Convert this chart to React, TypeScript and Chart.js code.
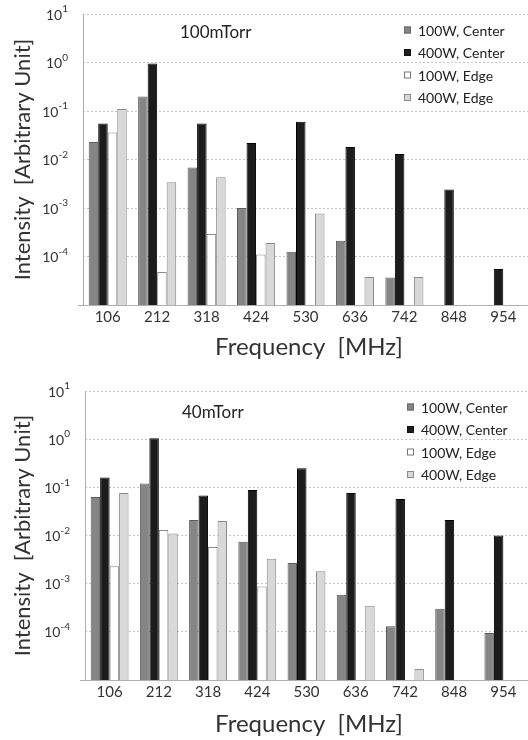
import React, { useEffect, useRef } from "react";
import { Chart, registerables } from "chart.js";
Chart.register(...registerables);

const categories = ["106", "212", "318", "424", "530", "636", "742", "848", "954"];
const seriesNames = ["100W, Center", "400W, Center", "100W, Edge", "400W, Edge"];
const yTickExponents = [1, 0, -1, -2, -3, -4];

const top100WCenter = [0.023, 0.2, 0.0068, 0.001, 1.25e-4, 2.1e-4, 3.7e-5, null, null];
const top400WCenter = [0.055, 0.95, 0.055, 0.022, 0.06, 0.018, 0.013, 0.0024, 5.5e-5];
const top100WEdge = [0.036, 4.8e-5, 2.9e-4, 1.1e-4, null, null, null, null, null];
const top400WEdge = [0.11, 0.0034, 0.0043, 1.9e-4, 7.7e-4, 3.8e-5, 3.8e-5, null, null];

const bot100WCenter = [0.063, 0.12, 0.021, 0.0074, 0.0027, 5.9e-4, 1.3e-4, 3.0e-4, 9.5e-5];
const bot400WCenter = [0.16, 1.05, 0.068, 0.088, 0.25, 0.076, 0.057, 0.021, 0.01];
const bot100WEdge = [0.0023, 0.013, 0.0058, 8.7e-4, null, null, null, null, null];
const bot400WEdge = [0.076, 0.011, 0.02, 0.0033, 0.0018, 3.5e-4, 1.7e-5, null, null];

const FONT = "Lato, 'Open Sans', sans-serif";
const fills = ["#858585", "#1c1c1c", "#ffffff", "#d8d8d8"];
const borders = ["#5c5c5c", "#000000", "#8a8a8a", "#8a8a8a"];
const legendBorders = ["#6a6a6a", "#111111", "#777777", "#8a8a8a"];

type Cfg = {
  series: (number | null)[][];
  label: string;
  padTop: number;
  yWidth: number;
  xHeight: number;
  labelPos: [number, number];
  legendPos: [number, number];
  xTitleY: number;
};

function makeChart(canvas: HTMLCanvasElement, cfg: Cfg) {
  const overlay = {
    id: "overlay",
    afterDraw(chart: any) {
      const ctx = chart.ctx as CanvasRenderingContext2D;
      const y = chart.scales.y;
      const area = chart.chartArea;
      ctx.save();
      // solid y axis line
      ctx.setLineDash([]);
      ctx.strokeStyle = "#b0b0b0";
      ctx.lineWidth = 1;
      ctx.beginPath();
      ctx.moveTo(area.left + 0.5, area.top);
      ctx.lineTo(area.left + 0.5, area.bottom);
      ctx.moveTo(area.left - 5, area.bottom + 0.5);
      ctx.lineTo(area.left, area.bottom + 0.5);
      ctx.stroke();
      // y tick labels with superscript exponent
      ctx.fillStyle = "#333";
      ctx.textBaseline = "middle";
      for (const e of yTickExponents) {
        const py = y.getPixelForValue(Math.pow(10, e));
        const sup = e < 0 ? "-" + Math.abs(e) : String(e);
        ctx.font = `10px ${FONT}`;
        const sw = ctx.measureText(sup).width;
        const right = area.left - 15;
        ctx.textAlign = "left";
        ctx.fillText(sup, right - sw, py - 5);
        ctx.font = `14px ${FONT}`;
        ctx.textAlign = "right";
        ctx.fillText("10", right - sw, py + 1);
      }
      // y title
      ctx.save();
      ctx.translate(23, (area.top + area.bottom) / 2);
      ctx.rotate(-Math.PI / 2);
      ctx.font = `22px ${FONT}`;
      ctx.fillStyle = "#333";
      ctx.textAlign = "center";
      ctx.textBaseline = "middle";
      ctx.fillText("Intensity  [Arbitrary Unit]", 0, 0);
      ctx.restore();
      // x title
      ctx.font = `24px ${FONT}`;
      ctx.fillStyle = "#333";
      ctx.textAlign = "center";
      ctx.textBaseline = "middle";
      ctx.fillText("Frequency  [MHz]", 309, cfg.xTitleY);
      // annotation
      ctx.font = `17px ${FONT}`;
      ctx.textAlign = "left";
      ctx.fillStyle = "#222";
      ctx.fillText(cfg.label, cfg.labelPos[0], cfg.labelPos[1]);
      // legend
      ctx.font = `14px ${FONT}`;
      seriesNames.forEach((name, i) => {
        const ly = cfg.legendPos[1] + i * 22.5;
        const lx = cfg.legendPos[0];
        ctx.fillStyle = fills[i];
        ctx.fillRect(lx, ly - 3.5, 7, 7);
        ctx.strokeStyle = legendBorders[i];
        ctx.strokeRect(lx + 0.5, ly - 3, 6, 6);
        ctx.fillStyle = "#222";
        ctx.fillText(name, lx + 14, ly + 1);
      });
      ctx.restore();
    },
  };

  return new Chart(canvas, {
    type: "bar",
    data: {
      labels: categories,
      datasets: cfg.series.map((d, i) => ({
        label: seriesNames[i],
        data: d,
        backgroundColor: fills[i],
        borderColor: borders[i],
        borderWidth: 1,
        barPercentage: 1,
        categoryPercentage: 0.77,
      })),
    },
    options: {
      animation: false,
      responsive: false,
      layout: { padding: { top: cfg.padTop, left: 0, right: 0, bottom: 0 } },
      plugins: { legend: { display: false }, tooltip: { enabled: false } },
      scales: {
        x: {
          grid: { display: false, drawTicks: false },
          border: { display: true, color: "#b0b0b0" },
          ticks: { color: "#333", font: { family: FONT, size: 15 }, padding: 3 },
          afterFit: (s: any) => {
            s.height = cfg.xHeight;
          },
        },
        y: {
          type: "logarithmic",
          min: 1e-5,
          max: 10,
          afterBuildTicks: (s: any) => {
            s.ticks = [-5, ...yTickExponents.slice().reverse()].map((e) => ({ value: Math.pow(10, e) }));
          },
          afterFit: (s: any) => {
            s.width = cfg.yWidth;
          },
          ticks: { display: false, callback: () => "" },
          grid: {
            drawTicks: false,
            color: (c: any) => (c.tick && c.tick.value < 1e-4 ? "rgba(0,0,0,0)" : "#c4c4c4"),
          },
          border: { display: false, dash: [2, 2] },
        },
      },
    },
    plugins: [overlay],
  } as any);
}

function Panel({ cfg }: { cfg: Cfg }) {
  const ref = useRef<HTMLCanvasElement | null>(null);
  useEffect(() => {
    if (!ref.current) return;
    const c = makeChart(ref.current, cfg);
    return () => c.destroy();
  }, []);
  return <canvas ref={ref} width={528} height={370} style={{ display: "block" }} />;
}

const topCfg: Cfg = {
  series: [top100WCenter, top400WCenter, top100WEdge, top400WEdge],
  label: "100mTorr",
  padTop: 14,
  yWidth: 83,
  xHeight: 65,
  labelPos: [180, 33],
  legendPos: [404, 30],
  xTitleY: 347,
};

const botCfg: Cfg = {
  series: [bot100WCenter, bot400WCenter, bot100WEdge, bot400WEdge],
  label: "40mTorr",
  padTop: 21,
  yWidth: 85,
  xHeight: 60,
  labelPos: [182, 43],
  legendPos: [407, 37],
  xTitleY: 354,
};

export default function App() {
  return (
    <div style={{ position: "absolute", left: 0, top: 0, width: 528, height: 740, background: "#fff" }}>
      <Panel cfg={topCfg} />
      <Panel cfg={botCfg} />
    </div>
  );
}
